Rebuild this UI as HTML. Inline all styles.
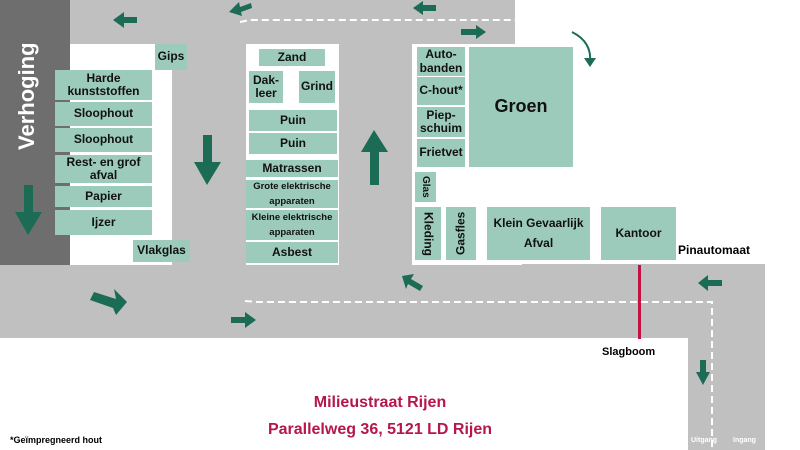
<!DOCTYPE html>
<html><head><meta charset="utf-8"><style>
body{margin:0;width:800px;height:450px;overflow:hidden;background:#fff;font-family:"Liberation Sans",sans-serif;position:relative}
.b{position:absolute;background:#9ccbbb;color:#111;font-weight:bold;display:flex;align-items:center;justify-content:center;text-align:center;line-height:1.1;font-size:12px}
.g{position:absolute;background:#c0c0c0}
.w{position:absolute;background:#fff}
.t{position:absolute;font-weight:bold;white-space:nowrap}
.v{writing-mode:vertical-rl}
</style></head><body>
<div class="g" style="left:0;top:0;width:515px;height:340px"></div>
<div class="g" style="left:0;top:264px;width:765px;height:74px;border-radius:0 14px 0 0"></div>
<div class="g" style="left:688px;top:264px;width:77px;height:186px"></div>
<div style="position:absolute;left:0;top:0;width:70px;height:265px;background:#6e6e6e"></div>
<div class="w" style="left:70px;top:44px;width:102px;height:221px"></div>
<div class="w" style="left:246px;top:44px;width:93px;height:221px"></div>
<div class="w" style="left:412px;top:44px;width:110px;height:221px"></div>
<div class="w" style="left:515px;top:0;width:285px;height:264px"></div>
<div class="w" style="left:0;top:338px;width:688px;height:112px"></div>
<div class="t v" style="left:14px;top:40px;color:#fff;font-size:22px;transform:rotate(180deg);height:112px;text-align:center">Verhoging</div>

<div class="b" style="left:155px;top:44px;width:32px;height:26px">Gips</div>
<div class="b" style="left:55px;top:70px;width:97px;height:30px">Harde<br>kunststoffen</div>
<div class="b" style="left:55px;top:102px;width:97px;height:24px">Sloophout</div>
<div class="b" style="left:55px;top:128px;width:97px;height:24px">Sloophout</div>
<div class="b" style="left:55px;top:155px;width:97px;height:28px">Rest- en grof<br>afval</div>
<div class="b" style="left:55px;top:186px;width:97px;height:21px">Papier</div>
<div class="b" style="left:55px;top:210px;width:97px;height:25px">Ijzer</div>
<div class="b" style="left:133px;top:240px;width:57px;height:22px">Vlakglas</div>

<div class="b" style="left:259px;top:49px;width:66px;height:17px">Zand</div>
<div class="b" style="left:249px;top:71px;width:34px;height:32px">Dak-<br>leer</div>
<div class="b" style="left:299px;top:71px;width:36px;height:32px">Grind</div>
<div class="b" style="left:249px;top:110px;width:88px;height:21px">Puin</div>
<div class="b" style="left:249px;top:133px;width:88px;height:21px">Puin</div>
<div class="b" style="left:246px;top:160px;width:92px;height:17px">Matrassen</div>
<div class="b" style="left:246px;top:180px;width:92px;height:28px;font-size:9.5px;line-height:1.6">Grote elektrische<br>apparaten</div>
<div class="b" style="left:246px;top:210px;width:92px;height:30px;font-size:9.5px;line-height:1.6">Kleine elektrische<br>apparaten</div>
<div class="b" style="left:246px;top:242px;width:92px;height:21px">Asbest</div>

<div class="b" style="left:417px;top:47px;width:48px;height:29px">Auto-<br>banden</div>
<div class="b" style="left:417px;top:77px;width:48px;height:28px">C-hout*</div>
<div class="b" style="left:417px;top:107px;width:48px;height:30px">Piep-<br>schuim</div>
<div class="b" style="left:417px;top:139px;width:48px;height:28px">Frietvet</div>
<div class="b" style="left:469px;top:47px;width:104px;height:120px;font-size:18px">Groen</div>
<div class="b v" style="left:415px;top:172px;width:21px;height:30px;font-size:10px">Glas</div>
<div class="b v" style="left:415px;top:207px;width:26px;height:53px">Kleding</div>
<div class="b v" style="left:446px;top:207px;width:30px;height:53px;transform:rotate(180deg)">Gasfles</div>
<div class="b" style="left:487px;top:207px;width:103px;height:53px;line-height:1.6">Klein Gevaarlijk<br>Afval</div>
<div class="b" style="left:601px;top:207px;width:75px;height:53px">Kantoor</div>
<div class="t" style="left:678px;top:243px;font-size:12px">Pinautomaat</div>

<div style="position:absolute;left:638px;top:265px;width:3px;height:74px;background:#c2123f"></div>
<div class="t" style="left:602px;top:346px;font-size:11px">Slagboom</div>
<div class="t" style="left:0;width:760px;top:394px;text-align:center;color:#b5164b;font-size:16px">Milieustraat Rijen</div>
<div class="t" style="left:0;width:760px;top:421px;text-align:center;color:#b5164b;font-size:16px">Parallelweg 36, 5121 LD Rijen</div>
<div class="t" style="left:10px;top:435px;font-size:9px">*Geïmpregneerd hout</div>
<div class="t" style="left:691px;top:437px;font-size:7px;color:#fff">Uitgang</div>
<div class="t" style="left:733px;top:437px;font-size:7px;color:#fff">Ingang</div>

<svg width="800" height="450" style="position:absolute;left:0;top:0">
<g fill="none" stroke="#fff" stroke-width="2" stroke-dasharray="7,4">
<path d="M240 22 L250 20 L515 20"/>
<path d="M245 301 L258 302 L712 302 L712 450"/>
</g>
<g fill="#1c6b55">
<polygon points="113,20 124,12 124,17 137,17 137,23 124,23 124,28"/>
<polygon points="413,8 423,1 423,5 436,5 436,11 423,11 423,15"/>
<polygon points="486,32 476,25 476,29 461,29 461,35 476,35 476,39"/>
<polygon points="229,12 239,2 240,7 251,3 252,8 241,12 242,16"/>
<polygon points="28,235 15,212 24,212 24,185 33,185 33,212 42,212"/>
<polygon points="207,185 194,162 203,162 203,135 212,135 212,162 221,162"/>
<polygon points="374,130 361,152 370,152 370,185 379,185 379,152 388,152"/>
<polygon points="127,302 116,315 113,308 90,300 94,292 116,299 114,289"/>
<polygon points="256,320 245,312 245,317 231,317 231,323 245,323 245,328"/>
<polygon points="402,276 414,274 411,279 423,286 420,291 408,284 406,289"/>
<polygon points="698,283 708,275 708,280 722,280 722,286 708,286 708,291"/>
<polygon points="703,385 696,372 700,372 700,360 706,360 706,372 710,372"/>
</g>
<path d="M572 32 Q592 42 590 62" fill="none" stroke="#1c6b55" stroke-width="2"/>
<polygon points="584,58 596,58 590,67" fill="#1c6b55"/>
</svg>
</body></html>
